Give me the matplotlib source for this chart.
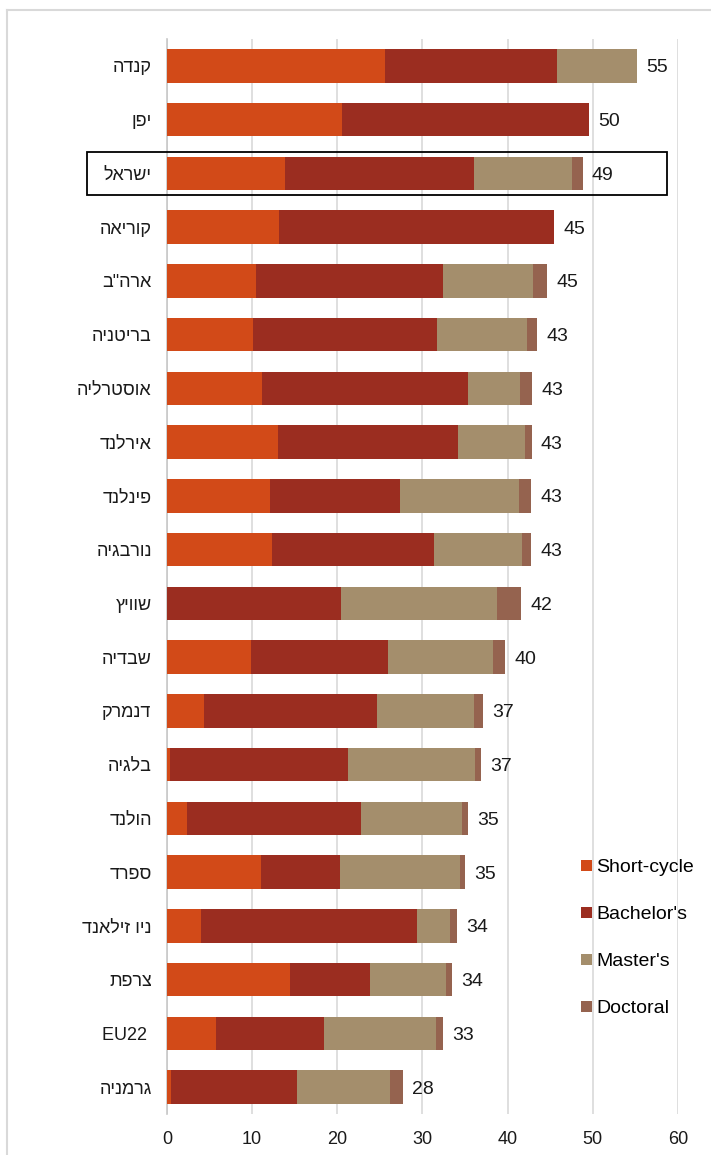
import matplotlib
matplotlib.use('Agg')
import matplotlib.pyplot as plt
from matplotlib.lines import Line2D
from matplotlib.patches import Rectangle
import numpy as np

plt.rcParams['font.family'] = ['Liberation Sans', 'DejaVu Sans']

# countries, top to bottom (logical Hebrew order)
countries = ['קנדה', 'יפן', 'ישראל', 'קוריאה', 'ארה"ב', 'בריטניה', 'אוסטרליה', 'אירלנד',
             'פינלנד', 'נורבגיה', 'שוויץ', 'שבדיה', 'דנמרק', 'בלגיה', 'הולנד', 'ספרד',
             'ניו זילאנד', 'צרפת', 'EU22 ', 'גרמניה']

short_cycle = [25.6, 20.5, 13.8, 13.1, 10.5, 10.1, 11.1, 13.0, 12.1, 12.3,
               0.0, 9.9, 4.4, 0.4, 2.3, 11.0, 4.0, 14.5, 5.7, 0.5]
bachelor = [20.2, 29.0, 22.3, 32.3, 21.9, 21.6, 24.3, 21.2, 15.3, 19.1,
            20.4, 16.0, 20.2, 20.8, 20.5, 9.3, 25.3, 9.3, 12.7, 14.8]
master = [9.4, 0.0, 11.4, 0.0, 10.6, 10.6, 6.1, 7.8, 13.9, 10.3,
          18.3, 12.4, 11.4, 15.0, 11.8, 14.1, 3.9, 9.0, 13.2, 10.9]
doctoral = [0.0, 0.0, 1.3, 0.0, 1.6, 1.2, 1.4, 0.8, 1.4, 1.0,
            2.9, 1.4, 1.1, 0.7, 0.7, 0.6, 0.8, 0.7, 0.8, 1.5]
totals = [55, 50, 49, 45, 45, 43, 43, 43, 43, 43, 42, 40, 37, 37, 35, 35, 34, 34, 33, 28]

series_names = ['Short-cycle', "Bachelor's", "Master's", 'Doctoral']
colors = ['#D24A18', '#9B2D20', '#A48E6C', '#95634F']


def visual(s):
    # matplotlib has no bidi, so flip Hebrew strings by hand
    if any('\u0590' <= ch <= '\u05FF' for ch in s):
        return s[::-1]
    return s


W, H = 711, 1155
fig = plt.figure(figsize=(W / 100, H / 100), dpi=100)
ax = fig.add_axes([167 / W, 1 - 1114 / H, (678 - 167) / W, (1114 - 39) / H])

y = np.arange(len(countries))
left = np.zeros(len(countries))
for vals, name, c in zip([short_cycle, bachelor, master, doctoral], series_names, colors):
    ax.barh(y, vals, left=left, height=0.62, color=c, label=name, zorder=3)
    left += np.array(vals)

# value labels at end of each bar
for i, t in enumerate(totals):
    ax.text(left[i] + 1.1, y[i], str(t), va='center_baseline', ha='left', fontsize=14,
            color='#1a1a1a')

ax.set_xlim(0, 60)
ax.set_ylim(len(countries) - 0.5, -0.5)
ax.set_xticks(np.arange(0, 61, 10))
ax.set_yticks(y)
ax.set_yticklabels([visual(c) for c in countries])
ax.tick_params(axis='y', length=0, pad=11, labelsize=13, labelcolor='#1a1a1a')
ax.tick_params(axis='x', length=0, pad=12, labelsize=13, labelcolor='#1a1a1a')
ax.grid(axis='x', color='#D9D9D9', linewidth=1.2, zorder=0)
for s in ['top', 'right', 'bottom']:
    ax.spines[s].set_visible(False)
ax.spines['left'].set_color('#C8C8C8')
ax.spines['left'].set_linewidth(1.2)

# box around Israel
idx = countries.index('ישראל')
ax.add_patch(Rectangle((-9.45, idx - 0.40), 68.1, 0.80, fill=False, edgecolor='black',
                       linewidth=1.3, clip_on=False, zorder=5))

# legend
fig.legend(loc='upper left', bbox_to_anchor=(581 / W, 1 - 859.5 / H), frameon=False,
           fontsize=14, handlelength=0.55, handleheight=0.55, handletextpad=0.25,
           labelspacing=1.54, borderpad=0, borderaxespad=0)

# outer chart border (left and top edges)
fig.add_artist(Line2D([7 / W, 7 / W], [0, 1 - 10 / H], color='#D9D9D9', linewidth=1.5,
                      transform=fig.transFigure))
fig.add_artist(Line2D([7 / W, 1], [1 - 10 / H, 1 - 10 / H], color='#D9D9D9', linewidth=1.5,
                      transform=fig.transFigure))

fig.savefig('out.png', dpi=100)
